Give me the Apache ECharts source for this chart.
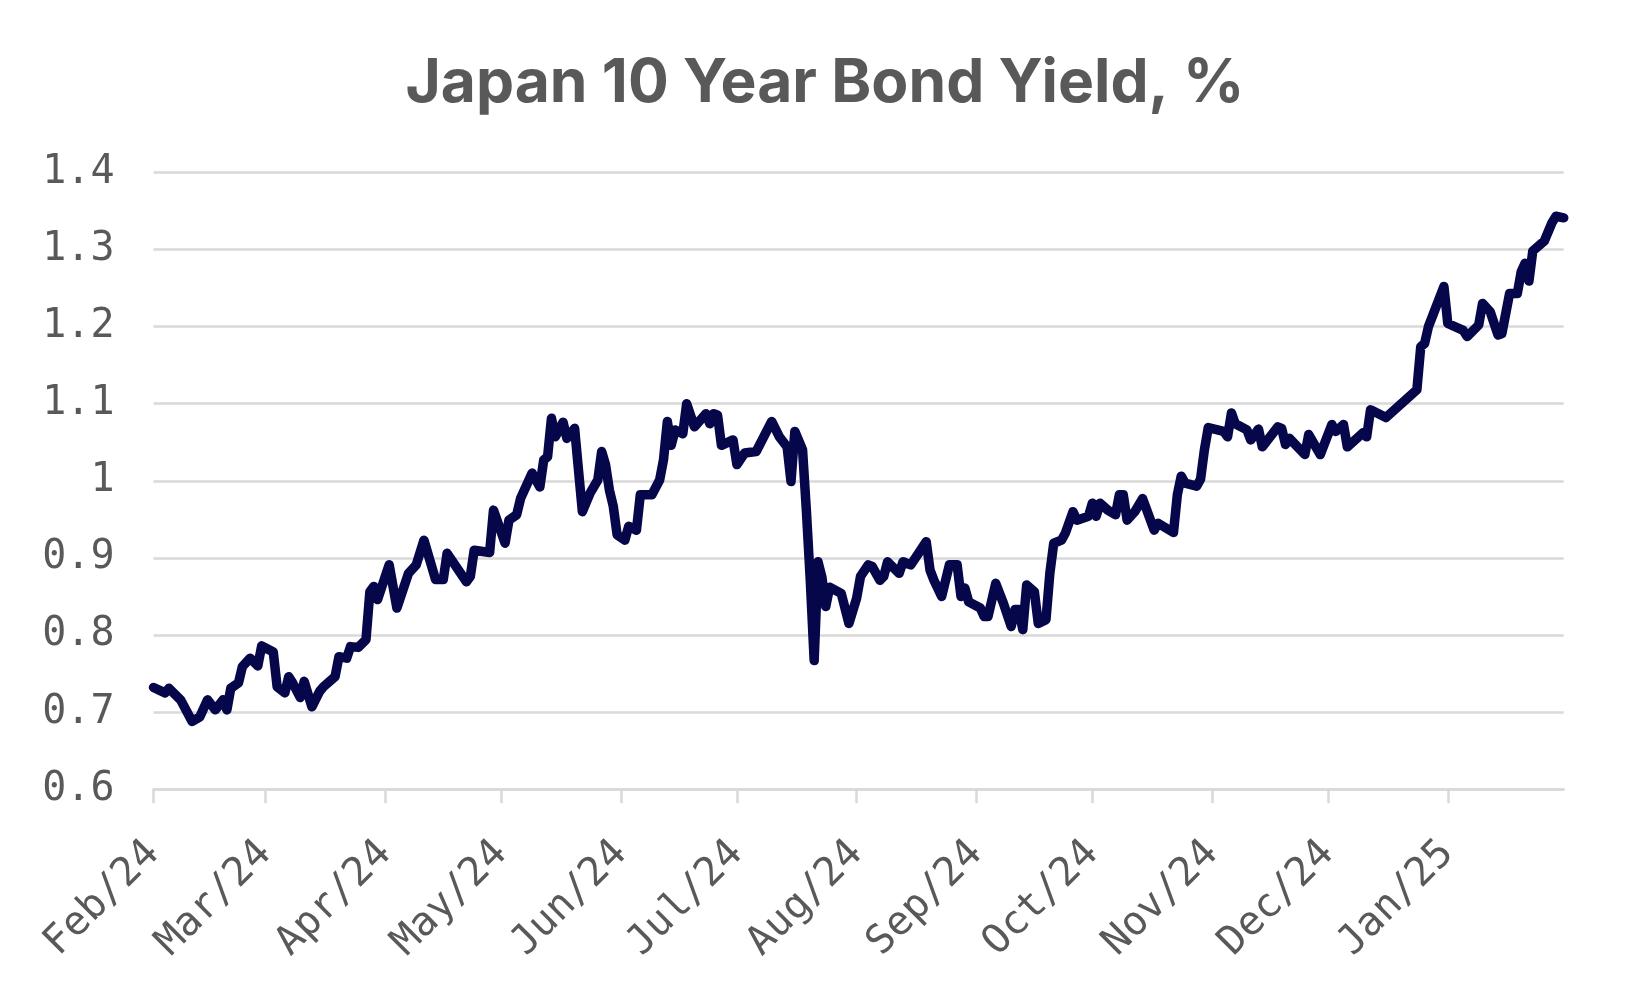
<!DOCTYPE html>
<html>
<head>
<meta charset="utf-8">
<script src="https://cdn.jsdelivr.net/npm/echarts@6/dist/echarts.min.js"></script>
<style>
html,body{margin:0;padding:0;background:#fff;}
#chart{width:1650px;height:990px;}
</style>
</head>
<body>
<div id="chart"></div>
<script>
// ---- data ----
const dates = [
'2024-02-01','2024-02-04','2024-02-05','2024-02-08','2024-02-11','2024-02-13','2024-02-15','2024-02-17','2024-02-19','2024-02-20',
'2024-02-21','2024-02-23','2024-02-24','2024-02-26','2024-02-28','2024-02-29','2024-03-03','2024-03-04','2024-03-06','2024-03-07',
'2024-03-08','2024-03-10','2024-03-11','2024-03-13','2024-03-15','2024-03-16','2024-03-19','2024-03-20','2024-03-22','2024-03-23',
'2024-03-25','2024-03-27','2024-03-28','2024-03-29','2024-03-30','2024-04-02','2024-04-04','2024-04-07','2024-04-09','2024-04-11',
'2024-04-14','2024-04-16','2024-04-17','2024-04-22','2024-04-23','2024-04-24','2024-04-28','2024-04-29','2024-05-02','2024-05-03',
'2024-05-05','2024-05-06','2024-05-07','2024-05-09','2024-05-11','2024-05-12','2024-05-13','2024-05-14','2024-05-15','2024-05-17',
'2024-05-18','2024-05-20','2024-05-22','2024-05-24','2024-05-26','2024-05-27','2024-05-28','2024-05-29','2024-05-30','2024-05-31',
'2024-06-02','2024-06-03','2024-06-05','2024-06-06','2024-06-09','2024-06-11','2024-06-12','2024-06-13','2024-06-14','2024-06-15',
'2024-06-17','2024-06-18','2024-06-20','2024-06-23','2024-06-24','2024-06-25','2024-06-26','2024-06-27','2024-06-30','2024-07-01',
'2024-07-03','2024-07-06','2024-07-10','2024-07-12','2024-07-14','2024-07-15','2024-07-16','2024-07-18','2024-07-19','2024-07-20',
'2024-07-21','2024-07-22','2024-07-23','2024-07-24','2024-07-25','2024-07-28','2024-07-30','2024-08-01','2024-08-02','2024-08-04',
'2024-08-05','2024-08-07','2024-08-08','2024-08-09','2024-08-12','2024-08-13','2024-08-15','2024-08-17','2024-08-19','2024-08-20',
'2024-08-21','2024-08-23','2024-08-25','2024-08-27','2024-08-28','2024-08-29','2024-08-30','2024-09-02','2024-09-03','2024-09-04',
'2024-09-06','2024-09-08','2024-09-10','2024-09-11','2024-09-12','2024-09-13','2024-09-14','2024-09-16','2024-09-17','2024-09-19',
'2024-09-20','2024-09-21','2024-09-23','2024-09-24','2024-09-26','2024-09-27','2024-09-30','2024-10-01','2024-10-02','2024-10-03',
'2024-10-05','2024-10-07','2024-10-08','2024-10-09','2024-10-10','2024-10-12','2024-10-14','2024-10-17','2024-10-18','2024-10-22',
'2024-10-23','2024-10-24','2024-10-25','2024-10-28','2024-10-29','2024-10-30','2024-10-31','2024-11-04','2024-11-05','2024-11-06',
'2024-11-07','2024-11-10','2024-11-11','2024-11-13','2024-11-14','2024-11-18','2024-11-19','2024-11-20','2024-11-21','2024-11-25',
'2024-11-26','2024-11-29','2024-12-02','2024-12-03','2024-12-05','2024-12-06','2024-12-08','2024-12-10','2024-12-11','2024-12-12',
'2024-12-16','2024-12-24','2024-12-25','2024-12-26','2024-12-27','2024-12-31','2025-01-01','2025-01-05','2025-01-06','2025-01-09',
'2025-01-10','2025-01-12','2025-01-14','2025-01-15','2025-01-17','2025-01-19','2025-01-20','2025-01-21','2025-01-22','2025-01-23',
'2025-01-26','2025-01-28','2025-01-29','2025-01-31'
];
const yields = [
0.732,0.725,0.731,0.716,0.688,0.694,0.716,0.703,0.716,0.703,
0.731,0.738,0.759,0.770,0.760,0.786,0.778,0.733,0.725,0.746,
0.738,0.719,0.740,0.707,0.727,0.733,0.746,0.772,0.770,0.785,
0.784,0.794,0.856,0.863,0.846,0.891,0.835,0.880,0.891,0.923,
0.872,0.872,0.906,0.869,0.876,0.910,0.907,0.962,0.919,0.949,
0.956,0.977,0.988,1.010,0.992,1.027,1.031,1.081,1.057,1.076,
1.055,1.068,0.960,0.984,1.001,1.038,1.021,0.988,0.967,0.930,
0.923,0.941,0.936,0.982,0.982,1.001,1.027,1.077,1.046,1.066,
1.061,1.100,1.070,1.087,1.074,1.087,1.085,1.046,1.053,1.021,
1.036,1.038,1.077,1.057,1.044,0.999,1.064,1.040,0.960,0.870,
0.767,0.895,0.875,0.837,0.862,0.854,0.815,0.848,0.876,0.891,
0.889,0.871,0.876,0.895,0.880,0.895,0.891,0.906,0.921,0.884,
0.871,0.850,0.891,0.891,0.850,0.861,0.843,0.835,0.824,0.824,
0.867,0.841,0.811,0.833,0.833,0.807,0.865,0.856,0.815,0.820,
0.880,0.919,0.923,0.932,0.960,0.949,0.954,0.971,0.954,0.971,
0.962,0.956,0.982,0.982,0.949,0.960,0.977,0.936,0.945,0.933,
0.982,1.006,0.997,0.993,1.002,1.040,1.069,1.064,1.057,1.088,
1.074,1.066,1.053,1.067,1.044,1.070,1.068,1.047,1.055,1.034,
1.060,1.034,1.073,1.064,1.073,1.044,1.053,1.062,1.057,1.092,
1.082,1.118,1.174,1.178,1.200,1.252,1.204,1.195,1.187,1.202,
1.230,1.219,1.189,1.191,1.243,1.243,1.271,1.282,1.259,1.298,
1.311,1.335,1.343,1.341
];
const monthTicks = ['2024-02-01','2024-03-01','2024-04-01','2024-05-01','2024-06-01','2024-07-01',
  '2024-08-01','2024-09-01','2024-10-01','2024-11-01','2024-12-01','2025-01-01'];
const monthLabels = ['Feb/24','Mar/24','Apr/24','May/24','Jun/24','Jul/24',
  'Aug/24','Sep/24','Oct/24','Nov/24','Dec/24','Jan/25'];
const xStart = '2024-02-01';
const xEnd = '2025-01-31';
const titleText = 'Japan 10 Year Bond Yield, %';

function ts(s) {
  const p = s.split('-').map(Number);
  return Date.UTC(p[0], p[1] - 1, p[2]);
}
const tickTs = monthTicks.map(ts);
const seriesData = dates.map((d, i) => [ts(d), yields[i]]);

const chart = echarts.init(document.getElementById('chart'), null, {renderer: 'canvas'});
const grey = '#595959';
const lineGrey = '#d9d9d9';
const monoFont = '"DejaVu Sans Mono", "Liberation Mono", monospace';

chart.setOption({
  animation: false,
  backgroundColor: '#ffffff',
  title: {
    text: titleText,
    left: 'center',
    top: 48,
    textStyle: {fontFamily: 'Inter', fontWeight: 'bold', fontSize: 60.5, color: grey}
  },
  grid: {left: 153.5, right: 86.3, top: 172.3, bottom: 200.7, containLabel: false, outerBoundsMode: 'none'},
  xAxis: {
    type: 'value',
    min: ts(xStart),
    max: ts(xEnd),
    axisLine: {show: true, onZero: false, lineStyle: {color: lineGrey, width: 2.5}},
    axisTick: {show: true, length: 14, lineStyle: {color: lineGrey, width: 2.5}, customValues: tickTs},
    splitLine: {show: false},
    axisLabel: {
      customValues: tickTs,
      rotate: 45,
      margin: 58,
      color: grey,
      fontFamily: monoFont,
      fontSize: 40,
      hideOverlap: false,
      showMinLabel: true,
      showMaxLabel: true,
      formatter: function (v) {
        const i = tickTs.findIndex(t => Math.abs(t - v) < 3600000);
        return i >= 0 ? monthLabels[i] : '';
      }
    }
  },
  yAxis: {
    type: 'value',
    min: 0.6,
    max: 1.4,
    interval: 0.1,
    axisLine: {show: false},
    axisTick: {show: false},
    splitLine: {show: true, lineStyle: {color: lineGrey, width: 2.5}},
    axisLabel: {
      margin: 39,
      color: grey,
      fontFamily: monoFont,
      fontSize: 40,
      formatter: function (v) { return String(Math.round(v * 10) / 10); }
    }
  },
  series: [{
    type: 'line',
    data: seriesData,
    showSymbol: false,
    symbol: 'none',
    lineStyle: {color: '#06064a', width: 9.5, cap: 'round', join: 'round'},
    z: 5
  }]
});
</script>
</body>
</html>
